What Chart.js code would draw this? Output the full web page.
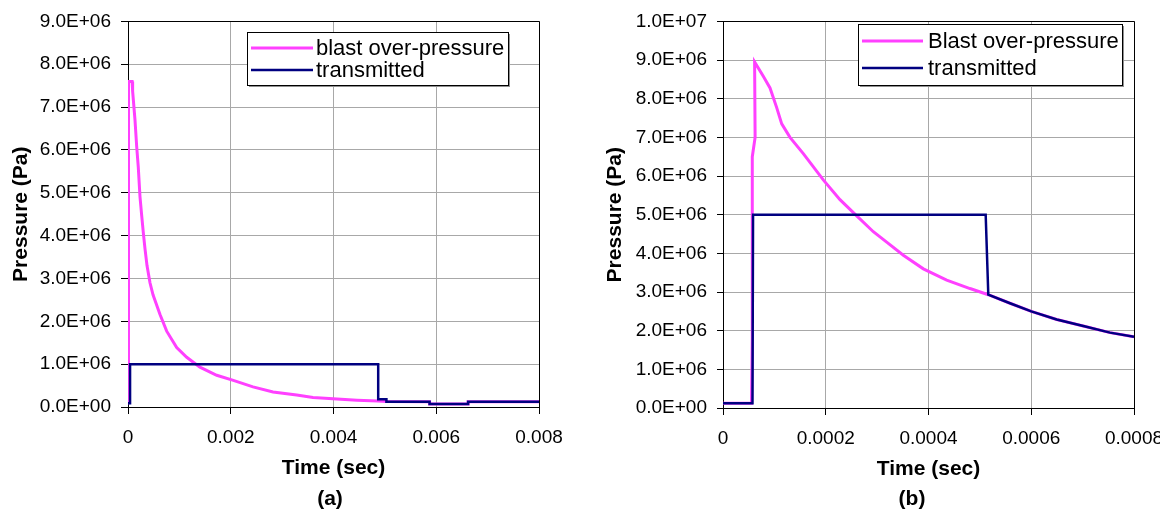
<!DOCTYPE html>
<html>
<head>
<meta charset="utf-8">
<script src="https://cdn.jsdelivr.net/npm/chart.js@4.4.1/dist/chart.umd.min.js"></script>
<style>
  html, body { margin: 0; padding: 0; background: #fff; width: 1171px; height: 514px; overflow: hidden; }
  #wrapA { position: absolute; left: 0; top: 0; width: 585px; height: 514px; }
  #clipB { position: absolute; left: 590px; top: 0; width: 570px; height: 514px; overflow: hidden; }
  #wrapB { position: absolute; left: 0; top: 0; width: 600px; height: 514px; }
  .cap { position: absolute; top: 486px; font: bold 21px "Liberation Sans", Arial, sans-serif; transform: translateX(-50%); }
</style>
</head>
<body>
<div id="wrapA"><canvas id="chartA"></canvas></div>
<div id="clipB"><div id="wrapB"><canvas id="chartB"></canvas></div></div>
<div class="cap" style="left:330px">(a)</div>
<div class="cap" style="left:912px">(b)</div>
<script>
// ---- data ----
// (a) time in sec, pressure in Pa
const blastTimeA = [0, 0.00001, 0.00001, 0.00008, 0.00009, 0.000136, 0.000169, 0.0002, 0.000234, 0.000267, 0.000298,
  0.000331, 0.00037, 0.000428, 0.000487, 0.000623, 0.000753, 0.000948, 0.001143, 0.0014, 0.001727, 0.00205,
  0.002433, 0.002823, 0.003284, 0.003601, 0.00399, 0.004457, 0.004866, 0.00503, 0.00587, 0.00587, 0.00662, 0.00662, 0.008];
const blastValA = [0.1e6, 0.1e6, 7.6e6, 7.6e6, 7.37e6, 6.7e6, 6.08e6, 5.6e6, 4.9e6, 4.46e6, 4.07e6,
  3.69e6, 3.3e6, 2.9e6, 2.62e6, 2.16e6, 1.77e6, 1.39e6, 1.16e6, 0.93e6, 0.74e6, 0.62e6,
  0.47e6, 0.35e6, 0.28e6, 0.22e6, 0.19e6, 0.16e6, 0.14e6, 0.13e6, 0.12e6, 0.07e6, 0.07e6, 0.12e6, 0.12e6];
const transTimeA = [0, 0.00004, 0.00004, 0.00487, 0.00487, 0.00503, 0.00503, 0.00587, 0.00587, 0.00662, 0.00662, 0.008];
const transValA = [0.09e6, 0.09e6, 1.0e6, 1.0e6, 0.18e6, 0.18e6, 0.12e6, 0.12e6, 0.07e6, 0.07e6, 0.12e6, 0.12e6];

// (b)
const blastTimeB = [0, 0.0000555, 0.000057, 0.000057, 0.0000625, 0.0000615, 0.0000784, 0.0000915, 0.0001045, 0.0001143,
  0.0001304, 0.0001563, 0.0001952, 0.0002277, 0.0002603, 0.0002926, 0.0003186, 0.000351, 0.00039, 0.0004354,
  0.0004808, 0.0005164, 0.0005586, 0.0006001, 0.0006495, 0.0007013, 0.0007533, 0.0008];
const blastValB = [0.12e6, 0.12e6, 1.8e6, 6.5e6, 7.0e6, 8.95e6, 8.58e6, 8.28e6, 7.77e6, 7.35e6,
  7.0e6, 6.58e6, 5.9e6, 5.39e6, 4.97e6, 4.56e6, 4.29e6, 3.95e6, 3.6e6, 3.31e6,
  3.09e6, 2.93e6, 2.71e6, 2.5e6, 2.29e6, 2.12e6, 1.95e6, 1.84e6];
const transTimeB = [0, 0.0000574, 0.0000585, 0.0005113, 0.0005164, 0.0005586, 0.0006001, 0.0006495, 0.0007013, 0.0007533, 0.0008];
const transValB = [0.12e6, 0.12e6, 5.0e6, 5.0e6, 2.93e6, 2.71e6, 2.5e6, 2.29e6, 2.12e6, 1.95e6, 1.84e6];

const seriesLabelsA = ['blast over-pressure', 'transmitted'];
const seriesLabelsB = ['Blast over-pressure', 'transmitted'];

Chart.defaults.font.family = '"Liberation Sans", Arial, sans-serif';
Chart.defaults.color = '#000';

function toPoints(xs, ys) {
  return xs.map((x, i) => ({ x: x, y: ys[i] }));
}

function sciLabel(v) {
  const parts = Number(v).toExponential(1).split('e');
  const e = parseInt(parts[1], 10);
  return parts[0] + 'E' + (e < 0 ? '-' : '+') + String(Math.abs(e)).padStart(2, '0');
}

// plot frame (top/right) and the boxed legend inside the plot
const frameAndLegend = {
  id: 'frameAndLegend',
  beforeDatasetsDraw(chart) {
    const a = chart.chartArea;
    const ctx = chart.ctx;
    ctx.save();
    ctx.strokeStyle = '#000';
    ctx.lineWidth = 1;
    ctx.beginPath();
    ctx.moveTo(Math.round(a.left) + 0.5, Math.round(a.top) + 0.5);
    ctx.lineTo(Math.round(a.right) + 0.5, Math.round(a.top) + 0.5);
    ctx.lineTo(Math.round(a.right) + 0.5, Math.round(a.bottom) + 0.5);
    ctx.stroke();
    ctx.restore();
  },
  afterDatasetsDraw(chart, args, opts) {
    const ctx = chart.ctx;
    const b = opts.box;
    ctx.save();
    // soft shadow on the right / bottom
    ctx.fillStyle = '#909090';
    ctx.fillRect(b[0] + 2, b[1] + b[3] + 1, b[2], 1);
    ctx.fillRect(b[0] + b[2] + 1, b[1] + 2, 1, b[3]);
    ctx.fillStyle = '#fff';
    ctx.fillRect(b[0], b[1], b[2], b[3]);
    ctx.strokeStyle = '#000';
    ctx.lineWidth = 1;
    ctx.strokeRect(b[0] + 0.5, b[1] + 0.5, b[2], b[3]);
    ctx.font = '22px "Liberation Sans", Arial, sans-serif';
    ctx.textBaseline = 'middle';
    ctx.fillStyle = '#000';
    chart.data.datasets.forEach((ds, i) => {
      const y = opts.rows[i];
      ctx.strokeStyle = ds.borderColor;
      ctx.lineWidth = ds.borderWidth;
      ctx.beginPath();
      ctx.moveTo(opts.sample[0], y);
      ctx.lineTo(opts.sample[1], y);
      ctx.stroke();
      ctx.fillText(ds.label, opts.textX, y + 1);
    });
    ctx.restore();
  }
};

function makeChart(id, cfg) {
  return new Chart(document.getElementById(id), {
    type: 'scatter',
    data: {
      datasets: [
        { label: cfg.labels[0], data: cfg.blast, showLine: true, borderColor: '#ff40ff', borderWidth: 3,
          pointRadius: 0, tension: 0, order: 1 },
        { label: cfg.labels[1], data: cfg.trans, showLine: true, borderColor: '#000080', borderWidth: 2.5,
          pointRadius: 0, tension: 0, order: 0 }
      ]
    },
    options: {
      responsive: true,
      maintainAspectRatio: false,
      animation: false,
      layout: { padding: cfg.padding },
      plugins: {
        legend: { display: false },
        tooltip: { enabled: false },
        frameAndLegend: cfg.legend
      },
      scales: {
        x: {
          type: 'linear', min: 0, max: cfg.xMax,
          ticks: { stepSize: cfg.xStep, autoSkip: false, maxRotation: 0, padding: 12, font: { size: 19 },
            callback: v => v === 0 ? '0' : String(parseFloat(v.toFixed(6))) },
          grid: { color: '#a8a8a8', lineWidth: 1, tickColor: '#000', tickLength: 7 },
          border: { color: '#000', width: 1 },
          title: { display: true, text: 'Time (sec)', font: { size: 21, weight: 'bold' }, padding: { top: 0, bottom: 1 } },
          afterFit: s => { s.height = 75; }
        },
        y: {
          min: 0, max: cfg.yMax,
          ticks: { stepSize: 1e6, autoSkip: false, padding: 10, font: { size: 19 }, callback: v => sciLabel(v) },
          grid: { color: '#a8a8a8', lineWidth: 1, tickColor: '#000', tickLength: cfg.yTick },
          border: { color: '#000', width: 1 },
          title: { display: true, text: 'Pressure (Pa)', font: { size: 21, weight: 'bold' }, padding: { top: cfg.yTitlePad, bottom: 0 } },
          afterFit: s => { s.width = cfg.yWidth; }
        }
      }
    },
    plugins: [frameAndLegend]
  });
}

makeChart('chartA', {
  labels: seriesLabelsA,
  blast: toPoints(blastTimeA, blastValA),
  trans: toPoints(transTimeA, transValA),
  xMax: 0.008, xStep: 0.002, yMax: 9e6,
  yWidth: 128, yTick: 7, yTitlePad: 9,
  padding: { left: 0, top: 16, right: 46, bottom: 32 },
  legend: { box: [247, 32, 261, 53], rows: [48, 70], sample: [251, 313], textX: 316 }
});

makeChart('chartB', {
  labels: seriesLabelsB,
  blast: toPoints(blastTimeB, blastValB),
  trans: toPoints(transTimeB, transValB),
  xMax: 0.0008, xStep: 0.0002, yMax: 1e7,
  yWidth: 133, yTick: 6, yTitlePad: 13,
  padding: { left: 0, top: 16, right: 56, bottom: 31 },
  legend: { box: [268, 24, 264, 61], rows: [41, 68], sample: [272, 333], textX: 338 }
});
</script>
</body>
</html>
